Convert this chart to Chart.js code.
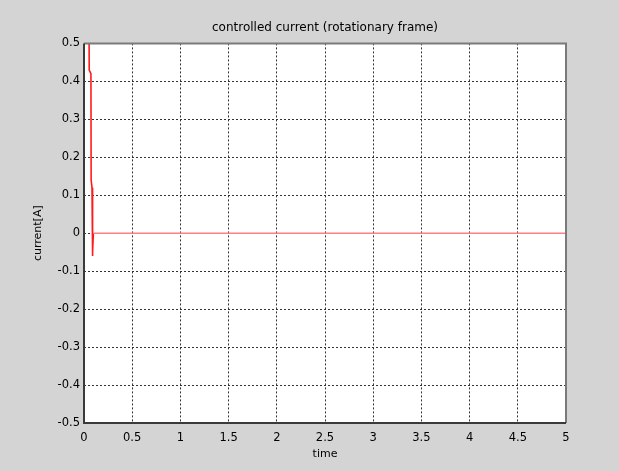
<!DOCTYPE html>
<html>
<head>
<meta charset="utf-8">
<script src="https://cdn.jsdelivr.net/npm/chart.js@4.4.1/dist/chart.umd.min.js"></script>
<style>
  html, body { margin: 0; padding: 0; background: #d4d4d4; }
  #wrap { width: 619px; height: 471px; }
</style>
</head>
<body>
<div id="wrap"><canvas id="c" width="619" height="471"></canvas></div>
<script>
// Data
const chartTitle = "controlled current (rotationary frame)";
const xAxisLabel = "time";
const yAxisLabel = "current[A]";
const timeValues    = [0.050, 0.054, 0.072, 0.074, 0.083, 0.086, 0.092, 0.097, 5.0];
const currentValues = [0.70,  0.43,  0.42,  0.14,  0.12, -0.06, -0.05,  0.0,   0.0];
const xTickLabels = ["0","0.5","1","1.5","2","2.5","3","3.5","4","4.5","5"];
const yTickLabels = ["-0.5","-0.4","-0.3","-0.2","-0.1","0","0.1","0.2","0.3","0.4","0.5"];

const points = timeValues.map((t, i) => ({ x: t, y: currentValues[i] }));
const FONT = { family: "'DejaVu Sans', sans-serif", size: 11 };

const boxPlugin = {
  id: 'box',
  beforeDraw(chart) {
    const { ctx, chartArea: a } = chart;
    ctx.save();
    ctx.fillStyle = '#d4d4d4';
    ctx.fillRect(0, 0, chart.width, chart.height);
    ctx.fillStyle = '#ffffff';
    ctx.fillRect(a.left, a.top, a.right - a.left, a.bottom - a.top);
    ctx.restore();
  },
  afterDraw(chart) {
    const { ctx, chartArea: a } = chart;
    ctx.save();
    ctx.strokeStyle = '#7a7a7a';
    ctx.lineWidth = 2;
    ctx.beginPath();
    ctx.moveTo(a.left, a.top);
    ctx.lineTo(a.right, a.top);
    ctx.lineTo(a.right, a.bottom);
    ctx.stroke();
    ctx.strokeStyle = '#3a3a3a';
    ctx.beginPath();
    ctx.moveTo(a.left, a.top);
    ctx.lineTo(a.left, a.bottom);
    ctx.lineTo(a.right, a.bottom);
    ctx.stroke();
    ctx.restore();
  }
};

new Chart(document.getElementById('c'), {
  type: 'scatter',
  data: {
    datasets: [{
      data: points,
      showLine: true,
      borderColor: '#ff1a1a',
      borderWidth: 1.6,
      pointRadius: 0,
      tension: 0,
      segment: {
        borderColor: ctx => (ctx.p0.parsed.y === 0 && ctx.p1.parsed.y === 0) ? '#ff8080' : undefined
      }
    }]
  },
  options: {
    responsive: false,
    animation: false,
    devicePixelRatio: 1,
    layout: { padding: { left: 0, right: 53, top: 0, bottom: 0 } },
    plugins: {
      legend: { display: false },
      tooltip: { enabled: false },
      title: {
        display: true,
        text: chartTitle,
        fullSize: false,
        color: '#000',
        font: { ...FONT, size: 12, weight: 'normal' },
        padding: { top: 21, bottom: 8 }
      }
    },
    scales: {
      x: {
        type: 'linear',
        min: 0, max: 5,
        afterFit(axis) { axis.height = 48; },
        ticks: {
          stepSize: 0.5,
          color: '#000',
          font: { ...FONT, size: 11.5 },
          padding: 8,
          maxRotation: 0,
          autoSkip: false,
          callback: (v, i) => xTickLabels[i]
        },
        grid: {
          color: '#333',
          lineWidth: 1,
          drawTicks: false
        },
        border: { display: false, dash: [2, 2] },
        title: {
          display: true,
          text: xAxisLabel,
          color: '#000',
          font: FONT,
          padding: { top: 0, bottom: 10 }
        }
      },
      y: {
        type: 'linear',
        min: -0.5, max: 0.5,
        afterFit(axis) { axis.width = 84; },
        ticks: {
          stepSize: 0.1,
          color: '#000',
          font: { ...FONT, size: 11.5 },
          padding: 4,
          autoSkip: false,
          callback: (v, i) => yTickLabels[i]
        },
        grid: {
          color: '#333',
          lineWidth: 1,
          drawTicks: false
        },
        border: { display: false, dash: [2, 2] },
        title: {
          display: true,
          text: yAxisLabel,
          color: '#000',
          font: FONT,
          padding: { top: 32, bottom: 0 }
        }
      }
    }
  },
  plugins: [boxPlugin]
});
</script>
</body>
</html>
